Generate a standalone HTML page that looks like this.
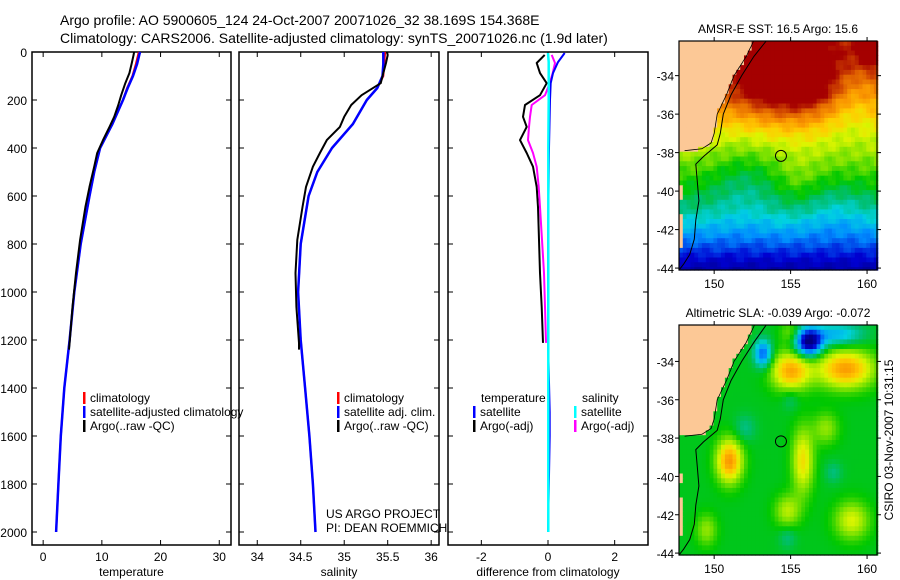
<!DOCTYPE html>
<html><head><meta charset="utf-8"><style>
body{margin:0;background:#fff}
svg{display:block;font-family:"Liberation Sans",sans-serif}
</style></head><body>
<svg id="c" width="900" height="580" xmlns="http://www.w3.org/2000/svg">
<text x="60" y="25" font-size="14">Argo profile: AO 5900605_124 24-Oct-2007 20071026_32 38.169S 154.368E</text>
<text x="60" y="43" font-size="14">Climatology: CARS2006. Satellite-adjusted climatology: synTS_20071026.nc (1.9d later)</text>
</svg>
<script>
// ---------- data ----------
const depthArgo=[0,12,46,88,130,180,221,270,312,367,421,478,562,646,783,921,1062,1212,1240];
const tempArgo=[15.5,15.4,15.1,14.7,14.0,13.3,12.8,12.1,11.3,10.2,9.2,8.7,7.9,7.2,6.3,5.6,5.0,4.5,4.4];
const salArgo=[35.49,35.50,35.48,35.45,35.42,35.20,35.08,35.00,34.95,34.80,34.72,34.64,34.56,34.52,34.46,34.44,34.45,34.48,34.48];
const depthClim=[0,50,100,150,200,300,400,500,600,800,1000,1200,1400,1600,1800,2000];
const tempClim=[16.3,15.8,15.2,14.3,13.6,11.8,9.7,8.7,7.9,6.4,5.3,4.5,3.6,3.0,2.6,2.2];
const salClim=[35.47,35.46,35.45,35.38,35.26,35.10,34.86,34.69,34.59,34.50,34.47,34.50,34.55,34.60,34.64,34.67];
const tempSat=[16.5,16.0,15.3,14.4,13.6,11.8,9.7,8.7,7.9,6.4,5.3,4.5,3.6,3.0,2.6,2.2];
const salSat=[35.45,35.45,35.44,35.38,35.26,35.10,34.86,34.69,34.59,34.50,34.47,34.50,34.55,34.60,34.64,34.67];
const depthDiff=[4,42,88,130,200,400,800,1200,1500,1600,2000];
const tempSatDiff=[0.5,0.3,0.15,0.08,0.06,0.03,0.0,0.0,0.05,0.05,0.0];
const salSatDiff=[0.0,0.02,0.02,0.02,0.02,0.01,0.01,0.01,0.01,0.01,0.01];
const depthArgoDiff=[12,46,88,130,180,221,270,312,367,421,478,562,646,783,921,1062,1212];
const tempArgoDiff=[-0.1,-0.34,-0.24,-0.04,-0.24,-0.69,-0.75,-0.64,-0.84,-0.64,-0.45,-0.34,-0.3,-0.27,-0.24,-0.19,-0.15];
const salArgoDiff=[0.11,0.21,0.14,0.05,-0.09,-0.49,-0.54,-0.57,-0.6,-0.45,-0.34,-0.28,-0.24,-0.18,-0.12,-0.09,-0.06];
const depthTicks=[0,200,400,600,800,1000,1200,1400,1600,1800,2000];
const tempTicks=[0,10,20,30];
const salTicks=[34,34.5,35,35.5,36];
const diffTicks=[-2,0,2];
const latTicks=[-34,-36,-38,-40,-42,-44];
const lonTicks=[150,155,160];

// ---------- helpers ----------
const NS="http://www.w3.org/2000/svg";
const svg=document.getElementById('c');
function mk(tag,at,parent){const e=document.createElementNS(NS,tag);for(const k in at)e.setAttribute(k,at[k]);(parent||svg).appendChild(e);return e;}
function txt(x,y,s,size,anchor,parent){const t=mk('text',{x:x,y:y,'font-size':size,'text-anchor':anchor||'start'},parent);t.textContent=s;return t;}
const Y=d=>52+d*0.24;
const panels=[
 {x0:32,x1:231,v0:-1.9,v1:32,ticks:tempTicks,label:'temperature',name:'temperature-panel'},
 {x0:239,x1:439,v0:33.79,v1:36.09,ticks:salTicks,label:'salinity',name:'salinity-panel'},
 {x0:448,x1:648,v0:-3,v1:3,ticks:diffTicks,label:'difference from climatology',name:'difference-panel'}];
panels.forEach(p=>{p.X=v=>p.x0+(v-p.v0)/(p.v1-p.v0)*(p.x1-p.x0);});
panels.forEach((p,i)=>{
 const g=mk('g',{});
 
 
 mk('rect',{x:p.x0,y:52,width:p.x1-p.x0,height:493,fill:'none',stroke:'#000','stroke-width':1.5},g);
 p.ticks.forEach(t=>{const x=p.X(t);
  mk('line',{x1:x,x2:x,y1:52,y2:57,stroke:'#000'},g);
  mk('line',{x1:x,x2:x,y1:545,y2:540,stroke:'#000'},g);
  const l=txt(x,561,String(t),12,'middle',g);
  
  
 });
 depthTicks.forEach(d=>{
  mk('line',{x1:p.x0,x2:p.x0+5,y1:Y(d),y2:Y(d),stroke:'#000'},g);
  mk('line',{x1:p.x1,x2:p.x1-5,y1:Y(d),y2:Y(d),stroke:'#000'},g);
  if(i==0){const l=txt(27,Y(d)+5,String(d),12,'end',g);
   
   }
 });
 const al=txt((p.x0+p.x1)/2,576,p.label,12,'middle',g);
 
 
});
function line(p,vals,depths,color,name,w){
 const pts=vals.map((v,k)=>p.X(v).toFixed(1)+','+Y(depths[k]).toFixed(1)).join(' ');
 const e=mk('polyline',{points:pts,fill:'none',stroke:color,'stroke-width':w||2,'stroke-linejoin':'round'});
 
 
}
const [P1,P2,P3]=panels;
line(P1,tempClim,depthClim,'#f00','temperature-climatology-line');
line(P1,tempSat,depthClim,'#00f','temperature-satellite-line',2.5);
line(P1,tempArgo,depthArgo,'#000','temperature-argo-line');
line(P2,salClim,depthClim,'#f00','salinity-climatology-line');
line(P2,salSat,depthClim,'#00f','salinity-satellite-line',2.5);
line(P2,salArgo,depthArgo,'#000','salinity-argo-line');
line(P3,tempArgoDiff,depthArgoDiff,'#000','temp-argo-diff-line');
line(P3,salArgoDiff,depthArgoDiff,'#f0f','sal-argo-diff-line');
line(P3,tempSatDiff,depthDiff,'#00f','temp-satellite-diff-line');
line(P3,salSatDiff,depthDiff,'#0ff','sal-satellite-diff-line',2.5);

function legend(x,y,color,label){
 const g=mk('g',{});
 
 
 mk('rect',{x:x,y:y-10,width:2.5,height:12,fill:color},g);
 txt(x+7,y,label,12,'start',g);
}
legend(83,402,'#f00','climatology');legend(83,416,'#00f','satellite-adjusted climatology');legend(83,430,'#000','Argo(..raw -QC)');
legend(337,402,'#f00','climatology');legend(337,416,'#00f','satellite adj. clim.');legend(337,430,'#000','Argo(..raw -QC)');
txt(481,402,'temperature',12);txt(582,402,'salinity',12);
legend(473,416,'#00f','satellite');legend(473,430,'#000','Argo(-adj)');
legend(574,416,'#0ff','satellite');legend(574,430,'#f0f','Argo(-adj)');
txt(326,518,'US ARGO PROJECT',12);txt(326,532,'PI: DEAN ROEMMICH',12);

// ---------- maps ----------
const stops=[[0,[0,0,128]],[0.12,[0,0,210]],[0.25,[0,140,255]],[0.35,[0,210,225]],[0.44,[0,190,110]],[0.52,[0,200,0]],[0.6,[120,225,0]],[0.68,[220,245,0]],[0.75,[255,205,0]],[0.83,[250,150,0]],[0.91,[220,90,0]],[1,[165,0,0]]];
function cmap(v){v=Math.max(0,Math.min(1,v));for(let i=1;i<stops.length;i++){if(v<=stops[i][0]){const a=stops[i-1],b=stops[i],f=(v-a[0])/(b[0]-a[0]);return 'rgb('+a[1].map((c,k)=>Math.round(c+(b[1][k]-c)*f)).join(',')+')';}}return 'rgb(165,0,0)';}
const coastLat=[-32,-33,-34,-35,-36,-37,-37.5,-37.8,-37.95];
const coastLon=[152.7,152.1,151.3,150.8,150.2,150.0,149.8,149.2,147.5];
function coast(lat){if(lat<-37.95)return null;for(let i=1;i<coastLat.length;i++){if(lat>=coastLat[i]){const f=(lat-coastLat[i-1])/(coastLat[i]-coastLat[i-1]);return coastLon[i-1]+f*(coastLon[i]-coastLon[i-1]);}}return 147.5;}
function isLand(lon,lat){const c=coast(lat);if(c!==null)return lon<c;if(lat<-39.8&&lat>-40.4)return lon<148.0;if(lat<-41.2&&lat>-43.0)return lon<147.95;return false;}
const G=(lon,lat,cx,cy,sx,sy)=>Math.exp(-((lon-cx)**2/(2*sx*sx)+(lat-cy)**2/(2*sy*sy)));
function sst(lon,lat){
 const t=[[-44.5,0.02],[-43.5,0.12],[-42,0.3],[-41,0.42],[-40,0.5],[-38.5,0.6],[-37,0.7],[-36,0.78],[-35,0.86],[-33,0.9],[-32,0.92]];
 let v=0.5;for(let i=1;i<t.length;i++){if(lat<=t[i][0]){const f=(lat-t[i-1][0])/(t[i][0]-t[i-1][0]);v=t[i-1][1]+f*(t[i][1]-t[i-1][1]);break;}}
 v+=0.3*G(lon,lat,155,-34,2.6,1.5)-0.1*G(lon,lat,159,-35,1.3,1.5)+0.15*G(lon,lat,160.5,-32.8,1,0.8);
 v-=0.08*G(lon,lat,152,-39.5,1.5,1.5)+0.06*G(lon,lat,158,-41,1.5,1)-0.05*G(lon,lat,155.5,-39.5,1,1);
 v+=0.015*Math.sin(lon*5.1+lat*3.3)+0.015*Math.cos(lat*6.7-lon*2.3);
 return v;}
function sla(lon,lat){
 let v=0.5;
 v+=0.3*G(lon,lat,155,-34.5,0.9,0.7)+0.32*G(lon,lat,158.6,-34.4,1.3,0.7)+0.33*G(lon,lat,151,-39.2,0.6,0.8);
 v+=0.22*G(lon,lat,155.8,-39.2,0.5,1.2)+0.15*G(lon,lat,154.8,-41.8,0.6,0.6)+0.18*G(lon,lat,159,-42.3,0.8,0.7);
 v+=0.12*G(lon,lat,157.3,-37.5,0.6,0.6)+0.12*G(lon,lat,149.5,-42.8,0.5,0.6)+0.1*G(lon,lat,155,-32.5,0.5,0.4);
 v-=0.5*G(lon,lat,156.2,-33,0.6,0.5)+0.3*G(lon,lat,153.2,-33.6,0.4,0.5)+0.2*G(lon,lat,158,-32.6,1.2,0.4);
 v-=0.08*G(lon,lat,152,-37.5,0.5,0.5)+0.07*G(lon,lat,157.8,-39.8,0.4,0.4)+0.07*G(lon,lat,154.8,-43.2,0.4,0.4)+0.06*G(lon,lat,155,-36,0.4,0.4);
 return v;}
function drawMap(top,bot,latTop,latBot,fn,title,name){
 const x0=679,x1=877,lon0=147.7,lon1=160.65;
 const X=l=>x0+(l-lon0)/(lon1-lon0)*(x1-x0);
 const Yl=l=>top+(latTop-l)/(latTop-latBot)*(bot-top);
 const g=mk('g',{});
 
 
 const cs=0.25;
 for(let lat=latTop;lat>latBot-1e-6;lat-=cs){for(let lon=lon0;lon<lon1;lon+=cs){
  const cl=lat-cs/2,cn=lon+cs/2;
  const fill=isLand(cn,cl)?'#fcc896':cmap(fn(cn,cl));
  const ya=Yl(lat),yb=Math.min(bot,Yl(lat-cs));
  if(yb<=ya)continue;
  mk('rect',{x:X(lon).toFixed(1),y:ya.toFixed(1),width:(X(lon+cs)-X(lon)+0.6).toFixed(1),height:(yb-ya+0.6).toFixed(1),fill:fill},g);}}
 let cp=[];for(let lat=latTop;lat>=-37.95;lat-=0.1){cp.push(X(coast(lat)).toFixed(1)+','+Yl(lat).toFixed(1));}
 mk('polyline',{points:cp.join(' '),fill:'none',stroke:'#000','stroke-width':0.8},g);
 const sh=[[latTop,153.4],[-33,152.6],[-34,151.8],[-35,151.1],[-36,150.6],[-37,150.4],[-37.6,150.2],[-38.2,149.3],[-38.6,148.8],[-39.5,148.9],[-40.5,149.0],[-41.5,148.8],[-42.5,148.7],[-43.3,148.4],[-43.8,148.0],[latBot,147.7]];
 mk('polyline',{points:sh.map(s=>X(s[1]).toFixed(1)+','+Yl(s[0]).toFixed(1)).join(' '),fill:'none',stroke:'#000','stroke-width':1},g);
 const m=mk('circle',{cx:X(154.368),cy:Yl(-38.169),r:5.5,fill:'none',stroke:'#000','stroke-width':1},g);
 
 
 mk('rect',{x:x0,y:top,width:x1-x0,height:bot-top,fill:'none',stroke:'#000','stroke-width':1.2},g);
 latTicks.forEach(l=>{const y=Yl(l);mk('line',{x1:x0-4,x2:x0,y1:y,y2:y,stroke:'#000'},g);mk('line',{x1:x1,x2:x1+4,y1:y,y2:y,stroke:'#000'},g);
  const t=txt(x0-5,y+5,String(l),12,'end',g);
  
  });
 lonTicks.forEach(l=>{const x=X(l);mk('line',{x1:x,x2:x,y1:top-4,y2:top,stroke:'#000'},g);mk('line',{x1:x,x2:x,y1:bot,y2:bot+4,stroke:'#000'},g);
  const t=txt(x,bot+18,String(l),12,'middle',g);
  
  });
 const tt=txt(778,top-8,title,12,'middle',g);
 
 
}
drawMap(41,270,-32.2,-44.1,sst,'AMSR-E SST: 16.5 Argo: 15.6','sst-map');
drawMap(325,555,-32.1,-44.1,sla,'Altimetric SLA: -0.039 Argo: -0.072','sla-map');
const st=txt(0,0,'CSIRO 03-Nov-2007 10:31:15',12,'middle');
st.setAttribute('transform','translate(893,440) rotate(-90)');


</script>
</body></html>
